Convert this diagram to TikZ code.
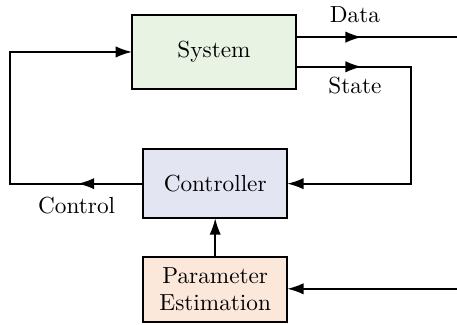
\documentclass[tikz,border=0pt]{standalone}
\usetikzlibrary{positioning,arrows.meta}
\definecolor{sysgreen}{HTML}{E8F3E3}
\definecolor{ctrlblue}{HTML}{E3E5F3}
\definecolor{estorange}{HTML}{FCE8DA}
\begin{document}
\begin{tikzpicture}[font=\fontsize{10.7pt}{12.6pt}\selectfont,
                    block/.style = {draw,thick,outer sep=0pt,minimum width=2.33cm,minimum height=1.12cm,align=center},
                    arrow/.style = {thick,-{Latex[length=7.5pt,width=5.2pt]}}]
                        \useasboundingbox (0,0) rectangle (7.39,5.24);

                        \node[block,fill=sysgreen,minimum width=2.65cm,minimum height=1.2cm] (system) at (3.46,4.40) {System};
                        \node[block,fill=ctrlblue] (controller) at (3.48,2.27) {Controller};
                        \node[block,fill=estorange,minimum height=1.05cm] (estimation) at (3.48,0.56) {Parameter\\Estimation};

                        \coordinate (datatip) at (5.85,4.64);
                        \coordinate (dataend) at (7.39,4.64);
                        \coordinate (statetip) at (5.85,4.16);
                        \coordinate (statecorner) at (6.65,4.16);
                        \coordinate (controltip) at (1.26,2.27);
                        \coordinate (loopcorner) at (0.16,2.27);
                        \coordinate (measure) at (7.39,0.57);

                        % full lines first, arrow heads on top
                        \draw[thick] (system.east |- datatip) -- (dataend);
                        \draw[arrow] (system.east |- datatip) -- (datatip);
                        \draw[arrow] (system.east |- statetip) -- (statecorner) |- (controller.east);
                        \draw[arrow] (system.east |- statetip) -- (statetip);
                        \draw[arrow] (controller.west) -- (loopcorner) |- (system.west);
                        \draw[arrow] (controller.west) -- (controltip);
                        \draw[arrow] (estimation) -- (controller);
                        \draw[arrow] (measure) -- (estimation.east |- measure);

                        \node (datalabel) at (5.74,5.00) {Data};
                        \node (statelabel) at (5.74,3.86) {State};
                        \node (controllabel) at (1.24,1.92) {Control};
                    \end{tikzpicture}
\end{document}
